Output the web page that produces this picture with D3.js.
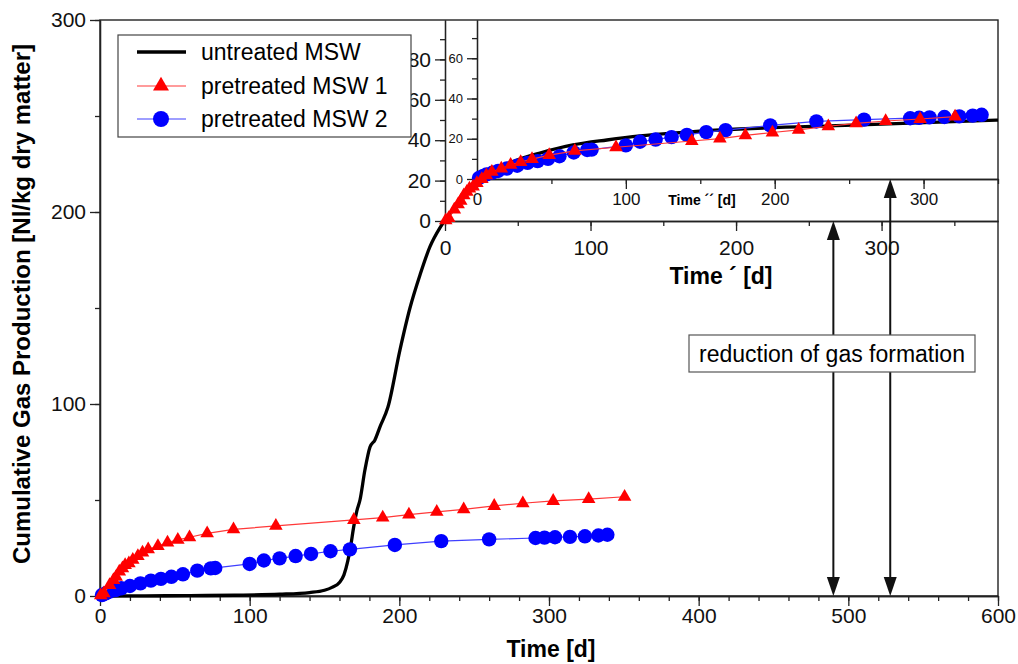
<!DOCTYPE html>
<html lang="en">
<head>
<meta charset="UTF-8">
<title>Cumulative Gas Production</title>
<script src="https://cdn.jsdelivr.net/npm/d3@7"></script>
<style>
  body { margin: 0; background: #fff; }
  svg { display: block; font-family: "Liberation Sans", Arial, sans-serif; }
  .axis path, .axis line { stroke: #222; stroke-width: 1.3; }
  .axis text { fill: #111; font-family: "Liberation Sans", Arial, sans-serif; }
</style>
</head>
<body>
<div id="chart"></div>
<script>
// untreated MSW (main time axis)
const untreatedDays = [0, 30, 60, 90, 120, 140, 150, 155, 160, 163, 165.5, 167.5, 169.5, 171.5, 173.7, 177, 180.4, 183.7, 187, 192.4,
  200.4, 207.1, 213.8, 220.4, 227.1, 233.8, 240.5, 247.2, 253.8, 260.5, 267.2, 280.6, 293.9, 316, 338.7, 360.7, 382.8, 414.2, 503, 600];
const untreatedGas = [0, 0.1, 0.2, 0.4, 0.9, 1.8, 3, 4.5, 7, 11, 18, 26, 36, 44, 50, 65.6, 77.6, 81.3, 88, 98.4,
  128.1, 150, 167.2, 181.8, 191.7, 199, 205.2, 210.9, 216.1, 220.3, 223.4, 227.6, 230.7, 234.9, 237.5, 239.6, 241.1, 242.7, 245.3, 247.9];

// pretreated MSW 1 (main axis, repeated on the Time ´ axis)
const pre1Days = [0.5, 2.6, 6.4, 9, 10.8, 12.9, 15, 16.8, 19.3, 21.9, 25.3, 28.4, 32.2, 38.7, 45.1, 52, 59.8, 71.6, 89.2, 117.5,
  169.6, 188.9, 206.4, 225, 243, 263.4, 282.5, 302.8, 326.5, 350.5];
const pre1Gas = [0.3, 1.4, 5.7, 8.3, 10, 12.7, 14.4, 16.1, 17, 18.8, 20.8, 22.6, 24.3, 26, 27.8, 29.2, 30.6, 32.6, 34.7, 36.5,
  39.6, 40.8, 42.4, 43.8, 45.1, 46.9, 48.3, 49.5, 50.5, 51.7];

// pretreated MSW 2 (main axis, repeated on the Time ´´ axis)
const pre2Days = [1.3, 3.9, 6.4, 10.3, 14.2, 20, 27, 34, 40.7, 47.7, 55.4, 65, 74, 77, 100, 109.5, 120, 130.7, 141, 154,
  167, 197, 228, 260, 291, 297, 304, 314, 324, 333, 339];
const pre2Gas = [0.5, 1.4, 2.3, 3.1, 4, 5.2, 6.6, 8, 8.9, 10, 11.3, 13.2, 14.4, 14.6, 16.7, 18.5, 19.6, 20.8, 21.9, 23.3,
  24.3, 26.6, 28.6, 29.5, 30.2, 30.4, 30.6, 30.8, 31.1, 31.5, 31.9];

const seriesNames = ["untreated MSW", "pretreated MSW 1", "pretreated MSW 2"];

const mainXTicks = [0, 100, 200, 300, 400, 500, 600];
const mainYTicks = [0, 100, 200, 300];
const primeXTicks = [0, 100, 200, 300];
const primeYTicks = [0, 20, 40, 60, 80];
const dprimeXTicks = [0, 100, 200, 300];
const dprimeYTicks = [0, 20, 40, 60];

const arrowDays = [490, 528];
const noteText = "reduction of gas formation";

const width = 1018, height = 664;
const font = '"Liberation Sans", Arial, sans-serif';

const svg = d3.select("#chart").append("svg")
    .attr("width", width)
    .attr("height", height);

// main frame
const x = d3.scaleLinear().domain([0, 600]).range([100, 998]);
const y = d3.scaleLinear().domain([0, 300]).range([596, 20]);
// Time ´ frame
const x1 = d3.scaleLinear().domain([0, 380]).range([445, 998]);
const y1 = d3.scaleLinear().domain([0, 99.5]).range([221, 20]);
// Time ´´ frame
const x2 = d3.scaleLinear().domain([0, 350]).range([477, 998]);
const y2 = d3.scaleLinear().domain([0, 79]).range([179, 20]);

function drawAxis(axisFn, scale, major, minor, transform, fontSize, pad) {
    const g = svg.append("g").attr("class", "axis").attr("transform", transform);
    g.append("g").call(axisFn(scale).tickValues(minor).tickSize(5).tickSizeOuter(0).tickFormat(""));
    g.append("g").call(axisFn(scale).tickValues(major).tickSize(10).tickSizeOuter(0).tickPadding(pad))
        .attr("font-size", fontSize)
        .attr("font-family", font);
    return g;
}

// main axes + box
svg.append("rect")
    .attr("x", 100).attr("y", 20)
    .attr("width", 898).attr("height", 576)
    .attr("fill", "none").attr("stroke", "#222").attr("stroke-width", 1.4);
drawAxis(d3.axisBottom, x, mainXTicks, d3.range(0, 601, 20), "translate(0,596)", 21, 2);
drawAxis(d3.axisLeft, y, mainYTicks, d3.range(0, 301, 50), "translate(100,0)", 21, 4);

// Time ´ axes
drawAxis(d3.axisBottom, x1, primeXTicks, d3.range(0, 380, 50), `translate(0,${y1(0)})`, 21, 9);
drawAxis(d3.axisLeft, y1, primeYTicks, d3.range(0, 100, 10), `translate(${x1(0)},0)`, 21, 4);

// Time ´´ axes
drawAxis(d3.axisBottom, x2, dprimeXTicks, d3.range(0, 351, 50), `translate(0,${y2(0)})`, 17, 4);
drawAxis(d3.axisLeft, y2, dprimeYTicks, d3.range(0, 79, 10), `translate(${x2(0)},0)`, 13, 4);

// axis titles
svg.append("text")
    .attr("x", 551).attr("y", 657)
    .attr("text-anchor", "middle")
    .attr("font-size", 23).attr("font-weight", "bold")
    .text("Time [d]");
svg.append("text")
    .attr("transform", "translate(30,304) rotate(-90)")
    .attr("text-anchor", "middle")
    .attr("font-size", 24).attr("font-weight", "bold")
    .text("Cumulative Gas Production [Nl/kg dry matter]");
svg.append("text")
    .attr("x", 721).attr("y", 284)
    .attr("text-anchor", "middle")
    .attr("font-size", 23).attr("font-weight", "bold")
    .text("Time \u00b4 [d]");
svg.append("text")
    .attr("x", 702).attr("y", 205)
    .attr("text-anchor", "middle")
    .attr("font-size", 14).attr("font-weight", "bold")
    .text("Time \u00b4\u00b4 [d]");

// arrows + note
const arrowTops = [y1(0), y2(0)];
const head = (tx, ty, dir) => `M${tx},${ty} L${tx - 6.5},${ty - dir * 19} L${tx + 6.5},${ty - dir * 19} Z`;
arrowDays.forEach((d, i) => {
    const ax = x(d);
    svg.append("line")
        .attr("x1", ax).attr("x2", ax)
        .attr("y1", arrowTops[i] + 10).attr("y2", y(0) - 10)
        .attr("stroke", "#111").attr("stroke-width", 2);
    svg.append("path").attr("d", head(ax, y(0), 1)).attr("fill", "#111");
    svg.append("path").attr("d", head(ax, arrowTops[i], -1)).attr("fill", "#111");
});
svg.append("rect")
    .attr("x", 689).attr("y", 335)
    .attr("width", 286).attr("height", 37)
    .attr("fill", "#fff").attr("stroke", "#555").attr("stroke-width", 1.2);
svg.append("text")
    .attr("x", 832).attr("y", 362)
    .attr("text-anchor", "middle")
    .attr("font-size", 23)
    .text(noteText);

// series
const untreated = untreatedDays.map((d, i) => [d, untreatedGas[i]]);
const pre1 = pre1Days.map((d, i) => [d, pre1Gas[i]]);
const pre2 = pre2Days.map((d, i) => [d, pre2Gas[i]]);

const redLine = "#ff3838", redFill = "#ff0000";
const blueLine = "#3f3fff", blueFill = "#0000ff";
const tri = d3.symbol().type(d3.symbolTriangle).size(80);

svg.append("path")
    .datum(untreated)
    .attr("fill", "none")
    .attr("stroke", "#000")
    .attr("stroke-width", 3.3)
    .attr("stroke-linejoin", "round")
    .attr("d", d3.line().x(d => x(d[0])).y(d => y(d[1])).curve(d3.curveMonotoneX));

function drawBlue(sx, sy) {
    const g = svg.append("g");
    g.append("path")
        .datum(pre2)
        .attr("fill", "none").attr("stroke", blueLine).attr("stroke-width", 1.2)
        .attr("d", d3.line().x(d => sx(d[0])).y(d => sy(d[1])));
    g.selectAll("circle")
        .data(pre2)
        .join("circle")
        .attr("cx", d => sx(d[0])).attr("cy", d => sy(d[1]))
        .attr("r", 7.2)
        .attr("fill", blueFill);
}
function drawRed(sx, sy) {
    const g = svg.append("g");
    g.append("path")
        .datum(pre1)
        .attr("fill", "none").attr("stroke", redLine).attr("stroke-width", 1.2)
        .attr("d", d3.line().x(d => sx(d[0])).y(d => sy(d[1])));
    g.selectAll(".tri")
        .data(pre1)
        .join("path")
        .attr("class", "tri")
        .attr("transform", d => `translate(${sx(d[0])},${sy(d[1])})`)
        .attr("d", tri)
        .attr("fill", redFill);
}
drawBlue(x, y);
drawRed(x, y);
drawBlue(x2, y2);
drawRed(x1, y1);

// legend
const legend = svg.append("g");
legend.append("rect")
    .attr("x", 118).attr("y", 35)
    .attr("width", 293).attr("height", 102)
    .attr("fill", "#fff").attr("stroke", "#444").attr("stroke-width", 1.2);
const rows = [52, 86, 119];
seriesNames.forEach((name, i) => {
    const ry = rows[i];
    legend.append("line")
        .attr("x1", 137).attr("x2", 186).attr("y1", ry).attr("y2", ry)
        .attr("stroke", i === 0 ? "#000" : (i === 1 ? redLine : blueLine))
        .attr("stroke-width", i === 0 ? 3.5 : 1.2);
    if (i === 1) {
        legend.append("path")
            .attr("transform", `translate(161,${ry})`)
            .attr("d", d3.symbol().type(d3.symbolTriangle).size(110))
            .attr("fill", redFill);
    }
    if (i === 2) {
        legend.append("circle").attr("cx", 161).attr("cy", ry).attr("r", 8).attr("fill", blueFill);
    }
    legend.append("text")
        .attr("x", 201).attr("y", ry + 8)
        .attr("font-size", 23)
        .text(name);
});
</script>
</body>
</html>
